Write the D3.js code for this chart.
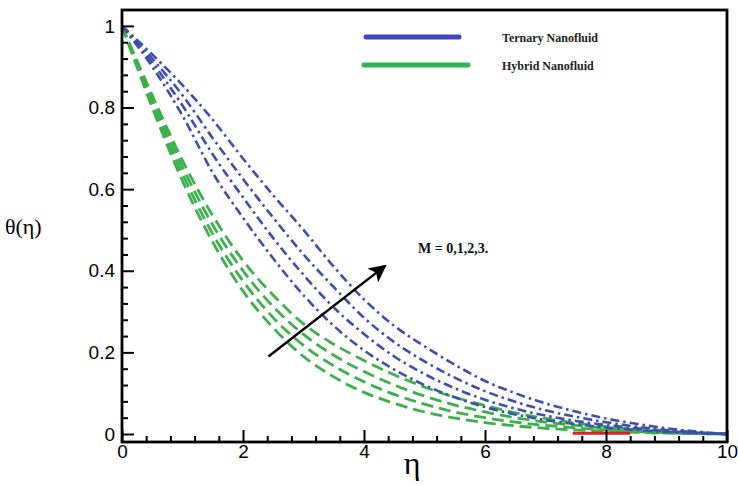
<!DOCTYPE html>
<html>
<head>
<meta charset="utf-8">
<script src="https://cdn.jsdelivr.net/npm/d3@7"></script>
<style>
  body { margin: 0; background: #fff; }
  .tick text { font-family: 'Liberation Sans', Arial, sans-serif; font-size: 19px; fill: #000; }
</style>
</head>
<body>
<div id="root"></div>
<script>
'use strict';

const Root = document.querySelector('#root');

// eta grid shared by every curve
const eta = [0, 0.5, 1, 1.5, 2, 2.5, 3, 3.5, 4, 4.5, 5, 5.5, 6, 6.5, 7, 7.5, 8, 8.5, 9, 9.5, 10];

// Ternary nanofluid, M = 0,1,2,3
const ternaryM0 = [1, 0.90, 0.78, 0.64, 0.53, 0.43, 0.34, 0.265, 0.205, 0.158, 0.12, 0.09, 0.066, 0.048, 0.034, 0.024, 0.016, 0.010, 0.005, 0.002, 0];
const ternaryM1 = [1, 0.91, 0.805, 0.685, 0.58, 0.48, 0.39, 0.31, 0.245, 0.19, 0.147, 0.112, 0.084, 0.062, 0.045, 0.032, 0.022, 0.014, 0.007, 0.003, 0];
const ternaryM2 = [1, 0.92, 0.83, 0.725, 0.625, 0.53, 0.44, 0.36, 0.285, 0.225, 0.178, 0.138, 0.105, 0.079, 0.058, 0.042, 0.029, 0.018, 0.010, 0.004, 0];
const ternaryM3 = [1, 0.93, 0.855, 0.77, 0.675, 0.585, 0.50, 0.41, 0.33, 0.265, 0.215, 0.17, 0.13, 0.10, 0.075, 0.055, 0.038, 0.025, 0.014, 0.006, 0];

// Hybrid nanofluid, M = 0,1,2,3
const hybridM0 = [1, 0.80, 0.62, 0.47, 0.35, 0.26, 0.19, 0.14, 0.102, 0.075, 0.054, 0.039, 0.028, 0.020, 0.014, 0.010, 0.007, 0.004, 0.002, 0.001, 0];
const hybridM1 = [1, 0.81, 0.637, 0.49, 0.375, 0.285, 0.217, 0.167, 0.128, 0.097, 0.073, 0.054, 0.040, 0.029, 0.021, 0.015, 0.010, 0.006, 0.003, 0.001, 0];
const hybridM2 = [1, 0.82, 0.654, 0.512, 0.40, 0.312, 0.244, 0.193, 0.153, 0.12, 0.093, 0.071, 0.054, 0.040, 0.029, 0.021, 0.014, 0.008, 0.004, 0.002, 0];
const hybridM3 = [1, 0.83, 0.67, 0.535, 0.425, 0.34, 0.27, 0.22, 0.18, 0.145, 0.115, 0.09, 0.07, 0.052, 0.038, 0.027, 0.018, 0.011, 0.006, 0.002, 0];

// stray red trace near the axis
const redEta   = [7.45, 8.4];
const redTheta = [0.002, 0.002];

const xTicks = [0, 2, 4, 6, 8, 10];
const yTicks = [0, 0.2, 0.4, 0.6, 0.8, 1];

const legendLabels = ['Ternary Nanofluid', 'Hybrid Nanofluid'];
const arrowLabel = 'M = 0,1,2,3.';

function draw() {
  const w = 738,
        h = 485,
        left = 122,
        right = 727,
        top = 10,
        bottom = 442,
        blue = '#3c4faa',
        green = '#3bb04c',

        svg = d3.select(Root)
                .append('svg')
                .attr('width', w)
                .attr('height', h),

        xScale = d3.scaleLinear()
                   .domain([0, 10])
                   .range([left, right]),

        yScale = d3.scaleLinear()
                   .domain([-0.0196, 1.039])
                   .range([bottom, top]),

        line = d3.line()
                 .x((d) => xScale(d[0]))
                 .y((d) => yScale(d[1]))
                 .curve(d3.curveMonotoneX);

  const pairs = (ys) => eta.map((e, i) => [e, ys[i]]);

  const series = [
    { ys: hybridM0, color: green, dash: '12,6', width: 2.8 },
    { ys: hybridM1, color: green, dash: '12,6', width: 2.8 },
    { ys: hybridM2, color: green, dash: '12,6', width: 2.8 },
    { ys: hybridM3, color: green, dash: '12,6', width: 2.8 },
    { ys: ternaryM0, color: blue, dash: '9,4,2.5,4', width: 2.6 },
    { ys: ternaryM1, color: blue, dash: '9,4,2.5,4', width: 2.6 },
    { ys: ternaryM2, color: blue, dash: '9,4,2.5,4', width: 2.6 },
    { ys: ternaryM3, color: blue, dash: '9,4,2.5,4', width: 2.6 }
  ];

  svg.append('clipPath')
     .attr('id', 'clip')
     .append('rect')
     .attr('x', left)
     .attr('y', top)
     .attr('width', right - left)
     .attr('height', bottom - top);

  const plot = svg.append('g').attr('clip-path', 'url(#clip)');

  plot.selectAll('path.curve')
      .data(series)
      .enter()
      .append('path')
      .attr('class', 'curve')
      .attr('d', (d) => line(pairs(d.ys)))
      .attr('fill', 'none')
      .attr('stroke', (d) => d.color)
      .attr('stroke-width', (d) => d.width)
      .attr('stroke-dasharray', (d) => d.dash);

  plot.append('path')
      .attr('d', line(redEta.map((e, i) => [e, redTheta[i]])))
      .attr('stroke', '#d8202a')
      .attr('stroke-width', 3)
      .attr('fill', 'none');

  // axes: major + minor ticks pointing inward
  const yMajor = d3.axisLeft(yScale).tickValues(yTicks).tickSize(-12).tickPadding(7)
                   .tickFormat((d) => d === 0 ? '0' : d === 1 ? '1' : d3.format('.1f')(d)),
        yMinor = d3.axisLeft(yScale).tickValues(d3.range(0.04, 1.0, 0.04).filter((v) => Math.abs(v / 0.2 - Math.round(v / 0.2)) > 0.01))
                   .tickSize(-6).tickFormat(''),
        xMajor = d3.axisBottom(xScale).tickValues(xTicks).tickSize(-12).tickPadding(3).tickFormat(d3.format('d')),
        xMinor = d3.axisBottom(xScale).tickValues(d3.range(0.4, 10, 0.4).filter((v) => Math.abs(v / 2 - Math.round(v / 2)) > 0.01))
                   .tickSize(-6).tickFormat('');

  [yMajor, yMinor].forEach((ax) => {
    svg.append('g')
       .attr('class', 'y-axis')
       .attr('transform', 'translate(' + left + ', 0)')
       .call(ax);
  });
  [xMajor, xMinor].forEach((ax) => {
    svg.append('g')
       .attr('class', 'x-axis')
       .attr('transform', 'translate(0, ' + bottom + ')')
       .call(ax);
  });

  svg.selectAll('.domain').remove();
  svg.selectAll('.tick line').attr('stroke', '#000').attr('stroke-width', 2);
  svg.selectAll('.x-axis .tick text').attr('dy', '0.7em');

  svg.append('rect')
     .attr('x', left)
     .attr('y', top)
     .attr('width', right - left)
     .attr('height', bottom - top)
     .attr('fill', 'none')
     .attr('stroke', '#000')
     .attr('stroke-width', 2.8);

  // axis titles
  svg.append('text')
     .attr('x', 412)
     .attr('y', 474)
     .attr('text-anchor', 'middle')
     .attr('font-family', "'Liberation Serif', 'Times New Roman', serif")
     .attr('font-size', 32)
     .text('η');

  svg.append('text')
     .attr('x', 5)
     .attr('y', 234)
     .attr('font-family', "'Liberation Serif', 'Times New Roman', serif")
     .attr('font-size', 22)
     .text('θ(η)');

  // legend
  const legend = svg.selectAll('g.legend')
                    .data(legendLabels)
                    .enter()
                    .append('g')
                    .attr('class', 'legend')
                    .attr('transform', (d, i) => 'translate(0, ' + (i * 28) + ')');

  legend.append('line')
        .attr('x1', (d, i) => i === 0 ? 366 : 364)
        .attr('x2', (d, i) => i === 0 ? 459 : 468)
        .attr('y1', 37)
        .attr('y2', 37)
        .attr('stroke', (d, i) => i === 0 ? '#4048c0' : '#2fb250')
        .attr('stroke-width', 5)
        .attr('stroke-linecap', 'round');

  legend.append('text')
        .attr('x', 502)
        .attr('y', 42)
        .attr('font-family', "'Liberation Serif', 'Times New Roman', serif")
        .attr('font-weight', 'bold')
        .attr('font-size', 12)
        .attr('fill', '#222')
        .text((d) => d);

  // arrow showing increasing M
  svg.append('defs')
     .append('marker')
     .attr('id', 'head')
     .attr('viewBox', '0 0 10 10')
     .attr('refX', 9)
     .attr('refY', 5)
     .attr('markerWidth', 9)
     .attr('markerHeight', 7)
     .attr('markerUnits', 'strokeWidth')
     .attr('orient', 'auto')
     .append('path')
     .attr('d', 'M0,0 L10,5 L0,10 L2.5,5 Z')
     .attr('fill', '#000');

  svg.append('line')
     .attr('x1', xScale(2.42))
     .attr('y1', yScale(0.19))
     .attr('x2', xScale(4.35))
     .attr('y2', yScale(0.412))
     .attr('stroke', '#000')
     .attr('stroke-width', 2.5)
     .attr('marker-end', 'url(#head)');

  svg.append('text')
     .attr('x', 418)
     .attr('y', 253)
     .attr('font-family', "'Liberation Serif', 'Times New Roman', serif")
     .attr('font-weight', 'bold')
     .attr('font-size', 14)
     .attr('fill', '#111')
     .text(arrowLabel);
}

draw();
</script>
</body>
</html>
